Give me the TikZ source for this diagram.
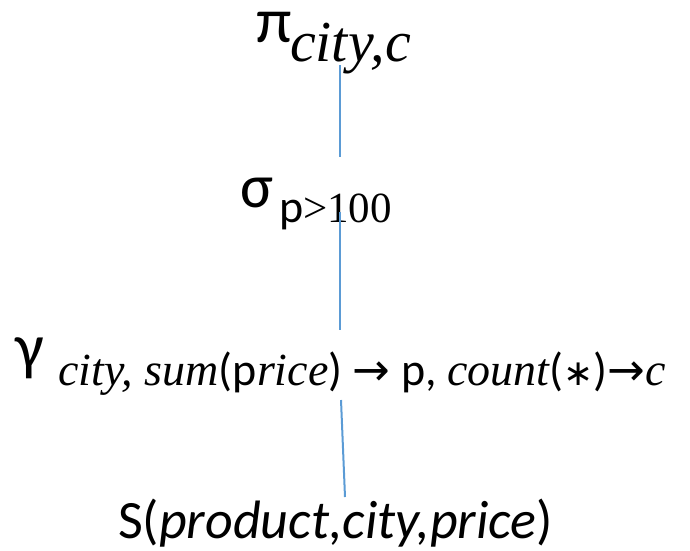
\documentclass[tikz,border=0pt]{standalone}
\usepackage{fontspec}
\setmainfont{Carlito}
\newfontfamily\serifit{Liberation Serif}
\newfontfamily\symf{DejaVu Sans}
\newcommand{\si}[1]{{\serifit\itshape #1}}
\newcommand{\arr}{{\symf\fontsize{45}{45}\selectfont →}}
\definecolor{linkblue}{RGB}{91,155,213}
\tikzset{
  lbl/.style={inner sep=0pt, outer sep=0pt, anchor=base west},
  link/.style={draw=linkblue, line width=2pt}
}
\begin{document}
\begin{tikzpicture}[x=1pt,y=-1pt]
\useasboundingbox (0,0) rectangle (690,550);
% pi
\node[lbl, font=\fontsize{64}{64}\selectfont] (pi) at (256,42) {π};
\node[lbl, font=\fontsize{58}{58}\selectfont\serifit\itshape] (pisub) at (290,61) {city,c};
% sigma
\node[lbl, font=\fontsize{62}{62}\selectfont] (sigma) at (240,207) {σ};
\node[lbl, font=\fontsize{46}{46}\selectfont] (sigsub) at (279,222) {p\serifit\fontsize{43}{43}\selectfont{>}100};
% gamma
\node[lbl, font=\fontsize{64}{64}\selectfont] (gamma) at (16,368) {γ};
\node[lbl, font=\fontsize{46}{46}\selectfont] (gamsub) at (58,385) {\si{city, sum}(p\si{rice}) \arr{} p, \si{count}({\symf\fontsize{36}{36}\selectfont ∗})\arr\si{c}};
% S
\node[lbl, font=\fontsize{54}{54}\selectfont] (rel) at (118,538) {S(\textit{product,city,price})};
% connectors
\coordinate (a1) at (340,65);
\coordinate (a2) at (340,157);
\coordinate (b1) at (340,212);
\coordinate (b2) at (340,330);
\coordinate (c1) at (341,400);
\coordinate (c2) at (345,497);
\draw[link] (a1) -- (a2);
\draw[link] (b1) -- (b2);
\draw[link] (c1) -- (c2);
\end{tikzpicture}
\end{document}
